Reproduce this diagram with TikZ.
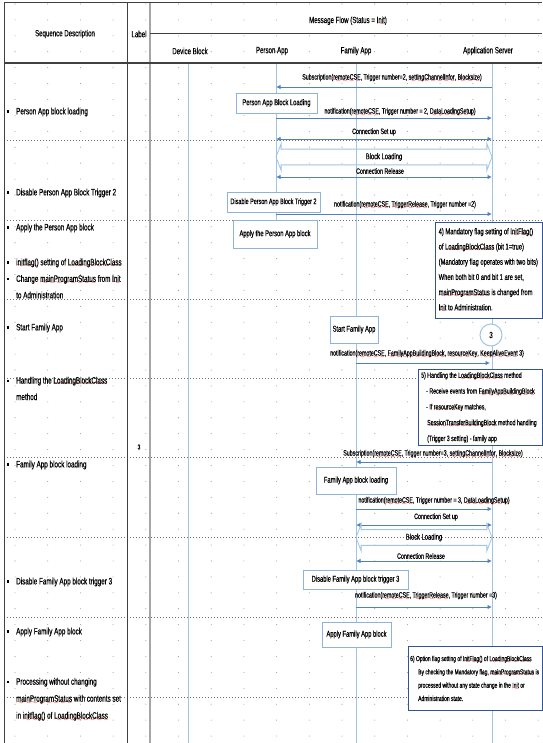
\documentclass[tikz,border=0pt]{standalone}
\usepackage{fontspec}
\setmainfont{Liberation Sans}[FakeStretch=0.68, FakeBold=0.4]
\usepackage{xcolor}
\usepackage{tikz}
\usetikzlibrary{arrows.meta,shapes.arrows}

\definecolor{lifeblue}{RGB}{160,196,228}
\definecolor{msgblue}{RGB}{79,129,189}
\definecolor{boxblue}{RGB}{143,180,220}
\definecolor{noteblue}{RGB}{47,85,151}
\definecolor{tablegray}{RGB}{64,64,64}
\definecolor{sepgray}{RGB}{166,166,166}
\definecolor{dotgray}{RGB}{160,160,160}
\definecolor{wavered}{RGB}{235,30,30}

\font\wavefont=lasy6 at 7.5pt
\newsavebox\sqbox
\newcommand\sq[1]{\sbox\sqbox{#1}\rlap{\raisebox{-2.4pt}{\textcolor{wavered}{\hbox to \wd\sqbox{\xleaders\hbox{\wavefont\char58}\hfil}}}}\usebox\sqbox}
\newcommand\bul{\makebox[9.5pt][l]{\raisebox{1.7pt}{\rule{2.3pt}{2.3pt}}}}
\newcommand\fs[2]{\fontsize{#1}{#2}\selectfont}

\begin{document}
\begin{tikzpicture}[x=1pt, y=-1pt,
  lifeline/.style={draw=lifeblue, line width=0.8pt},
  msg/.style={draw=msgblue, line width=0.9pt, -{Latex[length=4.5pt,width=4.5pt]}},
  bimsg/.style={draw=msgblue, line width=0.9pt, {Latex[length=4.5pt,width=4.5pt]}-{Latex[length=4.5pt,width=4.5pt]}},
  msglabel/.style={font=\fs{7.8}{9}, inner sep=0pt},
  action/.style={rectangle, draw=boxblue, fill=white, line width=0.9pt, font=\fs{8.5}{10}, inner sep=0pt},
  note/.style={rectangle, draw=noteblue, fill=white, line width=0.9pt, anchor=north west, inner sep=0pt},
  notetext/.style={anchor=west, align=left, inner sep=0pt},
  desc/.style={anchor=west, align=left, inner sep=0pt, font=\fs{9.3}{16.5}},
  head/.style={font=\fs{9}{11}, inner sep=0pt},
  blockload/.style={double arrow, draw=lifeblue, line width=0.8pt, double arrow head extend=5.5pt, double arrow tip angle=138, inner xsep=0pt, inner ysep=3.5pt, font=\fs{8.5}{10}}
]
\useasboundingbox (0,0) rectangle (542,743);

% Background grid
\foreach \i in {0,...,16}
  \foreach \j in {0,...,46}
    \fill[dotgray] ({15+32.7*\i},{4+15.914*\j}) circle (0.55);
\foreach \y in {140,220,299,378,457,537,617,697}
  \draw[dotgray!70!black, dash pattern=on 1pt off 2pt] (4,\y) -- (542,\y);

% Table frame
\draw[tablegray, line width=1pt] (4,743) -- (4,3) -- (542,3);
\draw[tablegray, line width=0.9pt] (127,3) -- (127,743);
\draw[sepgray, line width=2.5pt] (150,3) -- (150,743);
\draw[tablegray, line width=1pt] (150,34) -- (542,34);
\draw[tablegray, line width=1.6pt] (4,63) -- (542,63);

% Header
\node[head] (seqh) at (65,34) {Sequence Description};
\node[head] (labh) at (139,34) {Label};
\node[head] (flowh) at (348,21) {Message Flow (Status = \sq{Init})};
\node[head] (devh) at (190,51) {Device Block};
\node[head] (perh) at (272,51) {Person App};
\node[head] (famh) at (356,51) {Family App};
\node[head] (srvh) at (488,51) {Application Server};

% Lifelines
\coordinate (dev0) at (188,64);  \coordinate (dev1) at (188,743);
\coordinate (per0) at (276,64);  \coordinate (per1) at (276,220);
\coordinate (fam0) at (356,64);  \coordinate (fam1) at (356,743);
\coordinate (srv0) at (492,64);  \coordinate (srv1) at (492,743);
\draw[lifeline] (dev0) -- (dev1);
\draw[lifeline] (per0) -- (per1);
\draw[lifeline] (fam0) -- (fam1);
\draw[lifeline] (srv0) -- (srv1);

% Sequence description
\node[desc] (d1) at (6.5,112) {\bul Person App block loading};
\node[desc] (d2) at (6.5,193) {\bul Disable Person App Block Trigger 2};
\node[desc] (d3) at (6.5,228) {\bul Apply the Person App block};
\node[desc] (d4) at (6.5,278.5) {\bul \sq{initflag()} setting of \sq{LoadingBlockClass}\\\bul Change \sq{mainProgramStatus} from \sq{Init}\\\hspace*{9.5pt}to Administration};
\node[desc] (d5) at (6.5,328) {\bul Start Family App};
\node[desc] (d6) at (6.5,388.5) {\bul Handling the \sq{LoadingBlockClass}\\\hspace*{9.5pt}method};
\node[desc] (d7) at (6.5,465) {\bul Family App block loading};
\node[desc] (d8) at (6.5,582) {\bul Disable Family App block trigger 3};
\node[desc] (d9) at (6.5,632) {\bul Apply Family App block};
\node[desc, font=\fs{9.3}{17}] (d10) at (6.5,699.5) {\bul Processing without changing\\\hspace*{9.5pt}\sq{mainProgramStatus} with contents set\\\hspace*{9.5pt}in \sq{initflag()} of \sq{LoadingBlockClass}};

% Label
\node[font=\fs{7}{8}, inner sep=0pt] (lab3) at (139,447) {3};

% Person App messages
\coordinate (s1) at (492,87);   \coordinate (p1) at (276,87);
\coordinate (s2) at (492,118);  \coordinate (p2) at (276,118);
\coordinate (s3) at (492,139);  \coordinate (p3) at (276,139);
\coordinate (s4) at (492,177);  \coordinate (p4) at (276,177);
\coordinate (s5) at (492,214);  \coordinate (p5) at (276,214);

\node[msglabel] (m1) at (392,78) {Subscription(\sq{remoteCSE}, Trigger number=2, \sq{settingChannelInfor}, \sq{Blocksize})};
\draw[msg] (s1) -- (p1);
\node[msglabel] (m2) at (400,112) {notification(\sq{remoteCSE}, Trigger number = 2, \sq{DataLoadingSetup})};
\draw[msg] (p2) -- (s2);
\node[msglabel] (m3) at (374,132) {Connection Set up};
\draw[bimsg] (p3) -- (s3);
\node[blockload, minimum height=216pt] (bl1) at (384,157) {Block Loading};
\node[msglabel] (m4) at (380,171) {Connection Release};
\draw[bimsg] (p4) -- (s4);
\node[msglabel] (m5) at (405,205) {notification(\sq{remoteCSE}, \sq{TriggerRelease}, Trigger number =2)};
\draw[msg] (p5) -- (s5);

% Family App messages
\coordinate (f6) at (356,363);   \coordinate (s6) at (490,363);
\coordinate (f7) at (356,462);   \coordinate (s7) at (492,462);
\coordinate (f8) at (356,509);   \coordinate (s8) at (492,509);
\coordinate (f9) at (356,525);   \coordinate (s9) at (492,525);
\coordinate (f10) at (356,561);  \coordinate (s10) at (492,561);
\coordinate (f11) at (356,607);  \coordinate (s11) at (492,607);

\node[msglabel] (m6) at (427,354) {notification(\sq{remoteCSE}, \sq{FamilyAppBuildingBlock}, \sq{resourceKey}, \sq{KeepAliveEvent} 3)};
\draw[msg] (f6) -- (s6);
\node[msglabel] (m7) at (433,454) {Subscription(\sq{remoteCSE}, Trigger number=3, \sq{settingChannelInfor}, \sq{Blocksize})};
\draw[msg] (s7) -- (f7);
\node[msglabel] (m8) at (434,501) {notification(\sq{remoteCSE}, Trigger number = 3, \sq{DataLoadingSetup})};
\draw[msg] (f8) -- (s8);
\node[msglabel] (m9) at (436,517) {Connection Set up};
\draw[bimsg] (f9) -- (s9);
\node[blockload, minimum height=136pt] (bl2) at (424,537.5) {Block Loading};
\node[msglabel] (m10) at (421,556) {Connection Release};
\draw[bimsg] (f10) -- (s10);
\node[msglabel] (m11) at (426,596) {notification(\sq{remoteCSE}, \sq{TriggerRelease}, Trigger number =3)};
\draw[msg] (f11) -- (s11);

% Action boxes
\node[action, minimum width=81pt, minimum height=20pt] (pbl) at (276.5,103) {Person App Block Loading};
\node[action, minimum width=93pt, minimum height=20pt, font=\fs{8}{10}] (dpb) at (273.5,202) {Disable Person App Block Trigger 2};
\node[action, minimum width=84pt, minimum height=28pt] (apb) at (275,234) {Apply the Person App block};
\node[action, minimum width=48pt, minimum height=27pt] (sfa) at (354,329.5) {Start Family App};
\node[action, minimum width=80pt, minimum height=27pt] (fbl) at (356,480.5) {Family App block loading};
\node[action, minimum width=105pt, minimum height=19pt] (dfb) at (355.5,579.5) {Disable Family App block trigger 3};
\node[action, minimum width=69pt, minimum height=25pt] (afb) at (356.5,634.5) {Apply Family App block};
\node[circle, draw=lifeblue, line width=1pt, fill=white, minimum size=22pt, inner sep=0pt, font=\fs{9}{10}] (c3) at (491,335) {3};

% Notes
\node[note, minimum width=107pt, minimum height=96pt] (n4) at (435,222) {};
\node[notetext, font=\fs{8.5}{15.2}] (t4) at ([xshift=3.5pt]n4.west) {4) Mandatory flag setting of \sq{InitFlag()}\\of \sq{LoadingBlockClass} (bit 1=true)\\(Mandatory flag operates with two bits)\\When both bit 0 and bit 1 are set,\\\sq{mainProgramStatus} is changed from\\\sq{Init} to Administration.};
\node[note, minimum width=124pt, minimum height=76pt] (n5) at (418,369) {};
\node[notetext, font=\fs{7.7}{15.8}] (t5) at ([xshift=3pt]n5.west) {5) Handling the \sq{LoadingBlockClass} method\\\hspace*{5pt}- Receive events from \sq{FamilyAppBuildingBlock}\\\hspace*{5pt}- If \sq{resourceKey} matches,\\\hspace*{6pt}\sq{SessionTransferBuildingBlock} method handling\\\hspace*{6pt}(Trigger 3 setting) - family app};
\node[note, minimum width=134pt, minimum height=64pt] (n6) at (408,646) {};
\node[notetext, font=\fs{7.3}{13.3}] (t6) at ([xshift=2pt]n6.west) {6) Option flag setting of \sq{InitFlag()} of \sq{LoadingBlockClass}\\\hspace*{8pt}By checking the Mandatory flag, \sq{mainProgramStatus} is\\\hspace*{8pt}processed without any state change in the \sq{Init} or\\\hspace*{8pt}Administration state.};

\end{tikzpicture}
\end{document}
